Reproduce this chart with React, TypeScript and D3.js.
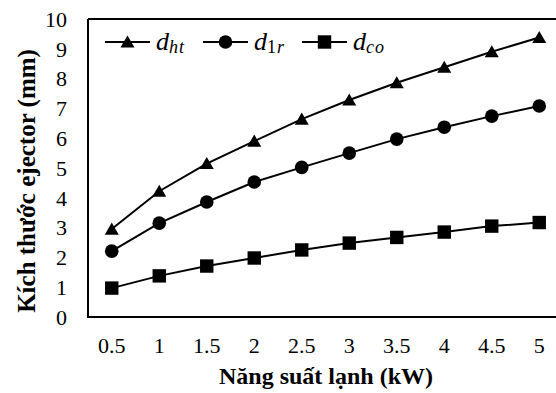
import React from "react";
import * as d3 from "d3";

const categories = ["0.5", "1", "1.5", "2", "2.5", "3", "3.5", "4", "4.5", "5"];
const dHt = [2.95, 4.22, 5.15, 5.9, 6.64, 7.28, 7.86, 8.38, 8.9, 9.38];
const d1r = [2.21, 3.15, 3.86, 4.53, 5.02, 5.5, 5.97, 6.37, 6.74, 7.08];
const dCo = [0.97, 1.38, 1.71, 1.98, 2.25, 2.48, 2.67, 2.85, 3.05, 3.17];
const yTicks = [0, 1, 2, 3, 4, 5, 6, 7, 8, 9, 10];

const W = 556, H = 393;
const left = 88, right = 563, top = 19, bottom = 317;
const fam = "Liberation Serif";
const tStyle = (size: number, extra: React.CSSProperties = {}): React.CSSProperties => ({ fontFamily: fam, fontSize: size, ...extra });

export default function App() {
  const x = d3.scaleBand<string>().domain(categories).range([left, right]);
  const y = d3.scaleLinear().domain([0, 10]).range([bottom, top]);
  const cx = (c: string) => (x(c) as number) + x.bandwidth() / 2;
  const line = d3.line<number>().x((_, i) => cx(categories[i])).y((v) => y(v));
  const tri = d3.symbol().type(d3.symbolTriangle).size(85)();
  const circ = d3.symbol().type(d3.symbolCircle).size(145)();
  const sq = d3.symbol().type(d3.symbolSquare).size(180)();
  const series = [
    { data: dHt, path: tri, dy: 1.5 },
    { data: d1r, path: circ, dy: 0 },
    { data: dCo, path: sq, dy: 0 },
  ];
  const legend = [
    { x0: 105, path: tri, dy: 1.5, sub: [["ht", true]] },
    { x0: 203, path: circ, dy: 0, sub: [["1", false], ["r", true]] },
    { x0: 302, path: sq, dy: 0, sub: [["co", true]] },
  ] as const;
  const ly = 42;
  return (
    <svg width={W} height={H} style={{ position: "absolute", left: 0, top: 0, background: "#fff", fontFamily: fam }}>
      <rect x={0} y={0} width={W} height={H} fill="#fff" />
      {series.map((s, si) => (
        <g key={si}>
          <path d={line(s.data) || ""} fill="none" stroke="#000" strokeWidth={2} />
          {s.data.map((v, i) => (
            <path key={i} d={s.path || ""} transform={`translate(${cx(categories[i])},${y(v) + s.dy})`} fill="#000" />
          ))}
        </g>
      ))}
      <path d={`M${left},${top}V${bottom}H${right}M${left},${top}H${right}`} fill="none" stroke="#000" strokeWidth={2} />
      {yTicks.map((t) => (
        <text key={t} x={67} y={y(t)} dy="0.35em" textAnchor="end" style={tStyle(22)}>{t}</text>
      ))}
      {categories.map((c) => (
        <text key={c} x={cx(c)} y={353} textAnchor="middle" style={tStyle(22)}>{c}</text>
      ))}
      <text x={326} y={384} textAnchor="middle" style={tStyle(24, { fontWeight: "bold" })}>Năng suất lạnh (kW)</text>
      <text transform="translate(35,181) rotate(-90)" textAnchor="middle" style={tStyle(25, { fontWeight: "bold" })}>Kích thước ejector (mm)</text>
      {legend.map((l, i) => (
        <g key={i}>
          <line x1={l.x0} x2={l.x0 + 45} y1={ly} y2={ly} stroke="#000" strokeWidth={2} />
          <path d={l.path || ""} transform={`translate(${l.x0 + 22.5},${ly + l.dy})`} fill="#000" />
          <text x={l.x0 + 51} y={ly + 8} style={tStyle(26, { fontStyle: "italic" })}>
            d
            {l.sub.map(([s, it], k) => (
              <tspan key={k} dy={k === 0 ? 3 : 0} style={{ fontSize: 18, fontStyle: it ? "italic" : "normal", letterSpacing: 1 }}>{s}</tspan>
            ))}
          </text>
        </g>
      ))}
    </svg>
  );
}
